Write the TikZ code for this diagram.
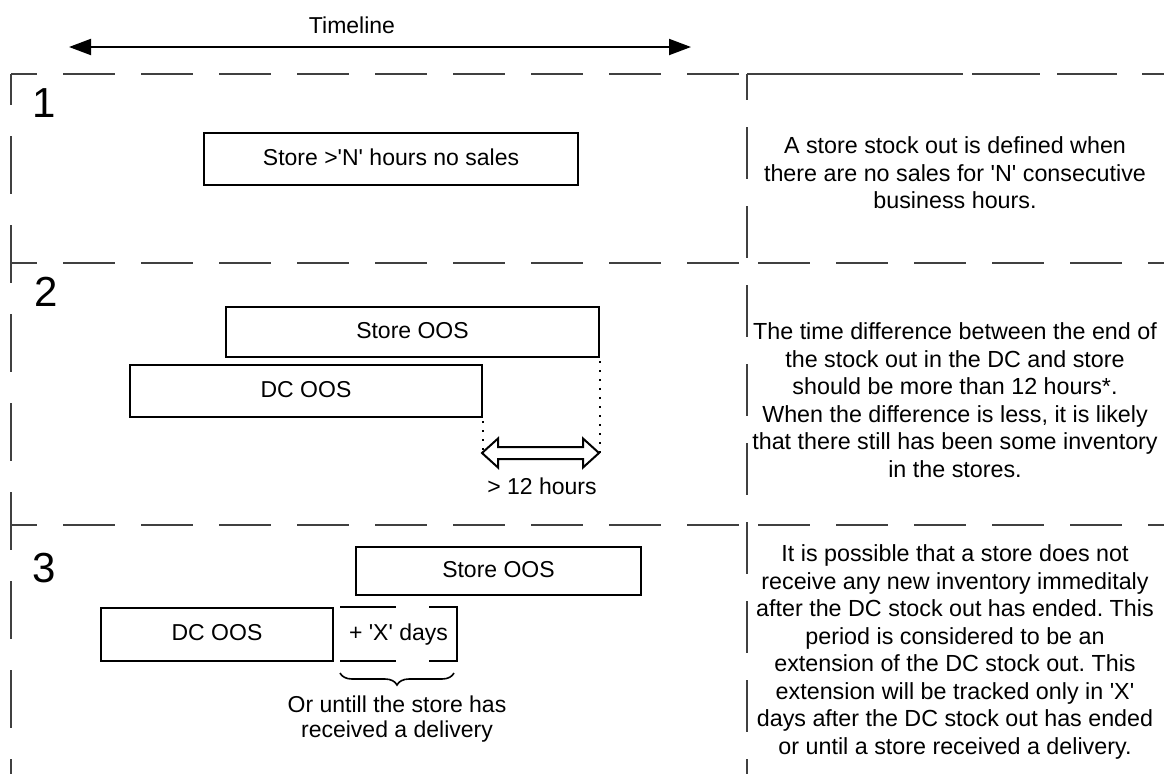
\documentclass[tikz,border=0pt]{standalone}
\usepackage{fontspec}
\setmainfont{Liberation Sans}
\newfontfamily\af{Liberation Sans}
\usetikzlibrary{arrows.meta,decorations.pathreplacing,calc}
\definecolor{dgray}{HTML}{404040}
\frenchspacing
\begin{document}
\begin{tikzpicture}[x=1pt,y=-1pt,
  dline/.style={draw=dgray, line width=2pt},
  hdash/.style={dline, dash pattern=on 52pt off 26pt, dash phase=26pt},
  rdash/.style={dline, dash pattern=on 52pt off 26pt, dash phase=67pt},
  box/.style={draw=black, line width=2pt, inner sep=0pt, font=\af\fontsize{23}{27}\selectfont\frenchspacing, text height=16.5pt, text depth=4.5pt},
  lbl/.style={font=\af\fontsize{23}{27}\selectfont, inner sep=0pt},
  para/.style={font=\af\fontsize{23.3}{27.5}\selectfont\frenchspacing, align=center, inner sep=0pt},
  num/.style={font=\af\fontsize{42}{48}\selectfont, inner sep=0pt},
  dotline/.style={line width=2pt, dash pattern=on 2pt off 7pt, dash phase=6pt},
  tlarrow/.style={line width=2pt, {Triangle[length=22pt,width=16pt]}-{Triangle[length=22pt,width=16pt]}},
  flex/.style={line width=2pt, fill=white, line join=miter},
  bracket/.style={line width=2pt},
  bracestyle/.style={line width=1.6pt, decorate, decoration={brace, mirror, amplitude=12pt}},
]
\useasboundingbox (0,0) rectangle (1164,774);

% frame
\draw[dline, dash pattern=on 58pt off 31pt, dash phase=27pt] (11,74) -- (11,774);
\draw[dline, dash pattern=on 52pt off 27pt, dash phase=26pt] (747,74) -- (747,774);
\draw[hdash] (11,74) -- (747,74);
\draw[hdash] (11,263) -- (747,263);
\draw[hdash] (11,525) -- (747,525);
\draw[dline, dash pattern=on 216pt off 9pt on 68pt off 17pt on 60pt off 25pt on 60pt off 25pt] (747,74) -- (1164,74);
\draw[rdash] (747,263) -- (1164,263);
\draw[rdash] (747,525) -- (1164,525);

% timeline
\node[lbl] (tltext) at (352,25) {Timeline};
\coordinate (tl) at (69,47);
\coordinate (tr) at (691,47);
\draw[tlarrow] (tl) -- (tr);

% section numbers
\node[num] (n1) at (44,103) {1};
\node[num] (n2) at (46,292) {2};
\node[num] (n3) at (44,568) {3};

% section 1
\node[box, minimum width=374pt, minimum height=52pt] (b1) at (391,159) {Store >'N' hours no sales};
\node[para] (t1) at (955,173) {A store stock out is defined when\\there are no sales for 'N' consecutive\\business hours.};

% section 2
\node[box, minimum width=373pt, minimum height=50pt] (s2) at (412.5,332) {Store OOS};
\node[box, minimum width=352pt, minimum height=52pt] (d2) at (306,391) {DC OOS};
\coordinate (a1) at (482,453);
\coordinate (a2) at (599,453);
\draw[dotline] (s2.south east) -- (s2.south east |- a2);
\draw[dotline] (d2.south east) -- (d2.south east |- a1);
\draw[flex] (a1) -- ++(16,-14.5) -- ++(0,8.5) -- ($(a2)+(-16,-6)$) -- ++(0,-8.5) -- (a2)
  -- ++(-16,14.5) -- ++(0,-8.5) -- ($(a1)+(16,6)$) -- ++(0,8.5) -- cycle;
\node[lbl] (h12) at (542,486) {> 12 hours};
\node[para] (t2) at (955,400) {The time difference between the end of\\the stock out in the DC and store\\should be more than 12 hours*.\\When the difference is less, it is likely\\that there still has been some inventory\\in the stores.};

% section 3
\node[box, minimum width=285pt, minimum height=48pt] (s3) at (498.5,571) {Store OOS};
\node[box, minimum width=232pt, minimum height=53pt] (d3) at (217,634.5) {DC OOS};
\node[box, draw=none, minimum width=115pt, minimum height=52pt] (xd) at (398.5,634) {+ 'X' days};
\draw[bracket] (xd.north west) -- ($(xd.north west)+(56,0)$);
\draw[bracket] (xd.south west) -- ($(xd.south west)+(56,0)$);
\draw[bracket] ($(xd.north east)+(-28,0)$) -- (xd.north east) -- (xd.south east) -- ($(xd.south east)+(-28,0)$);
\draw[bracestyle] ($(xd.south west)+(0,12)$) -- ($(xd.south east)+(-3,12)$);
\node[para, font=\af\fontsize{23}{25.5}\selectfont] (orr) at (397,719) {Or untill the store has\\received a delivery};
\node[para] (t3) at (955,652) {It is possible that a store does not\\receive any new inventory immeditaly\\after the DC stock out has ended. This\\period is considered to be an\\extension of the DC stock out. This\\extension will be tracked only in 'X'\\days after the DC stock out has ended\\or until a store received a delivery.};
\end{tikzpicture}
\end{document}
